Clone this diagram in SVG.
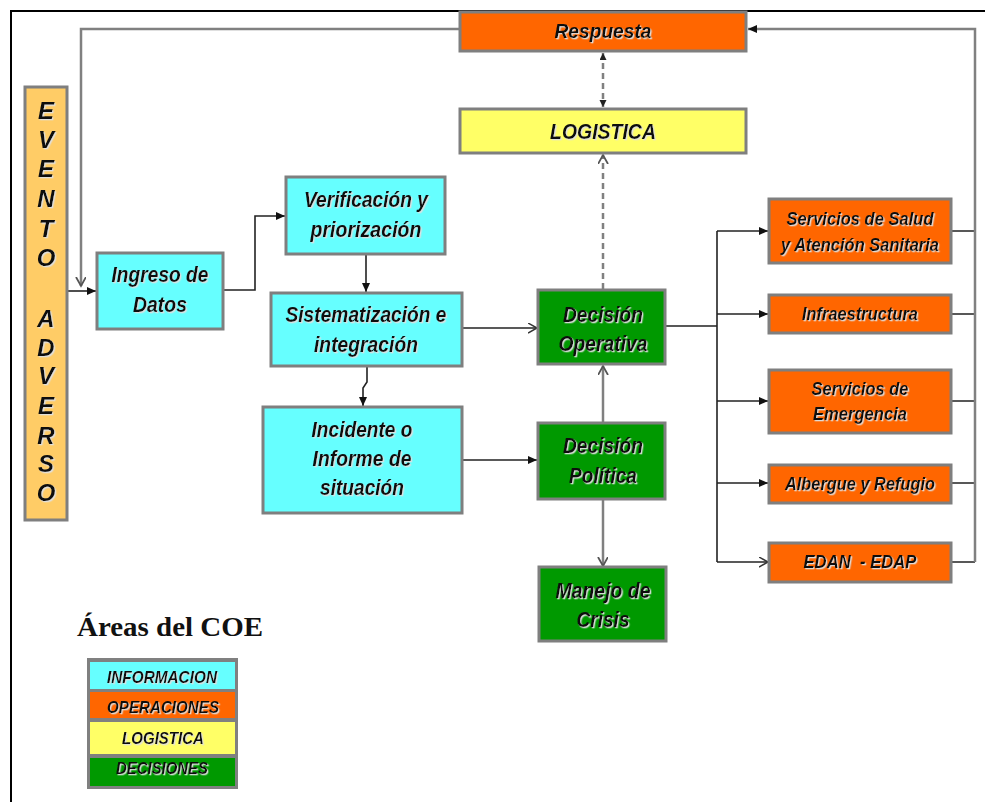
<svg xmlns="http://www.w3.org/2000/svg" width="985" height="802" viewBox="0 0 985 802">
<defs>
<filter id="ts" x="-10%" y="-20%" width="130%" height="150%">
<feDropShadow dx="1.3" dy="1.3" stdDeviation="0.5" flood-color="#e0e0e0" flood-opacity="0.95"/>
</filter>
<marker id="af" markerUnits="userSpaceOnUse" markerWidth="10" markerHeight="10" refX="9" refY="4.5" orient="auto-start-reverse">
<path d="M0,0.5 L9,4.5 L0,8.5 z" fill="#111"/>
</marker>
<marker id="ao" markerUnits="userSpaceOnUse" markerWidth="12" markerHeight="12" refX="9" refY="5" orient="auto">
<path d="M0,0 L9,5 L0,10" fill="none" stroke="#333" stroke-width="1.5"/>
</marker>
<marker id="ag" markerUnits="userSpaceOnUse" markerWidth="12" markerHeight="12" refX="9" refY="5" orient="auto">
<path d="M0,0 L9,5 L0,10" fill="none" stroke="#555" stroke-width="1.8"/>
</marker>
<marker id="ad" markerUnits="userSpaceOnUse" markerWidth="9" markerHeight="9" refX="7" refY="3.5" orient="auto-start-reverse">
<path d="M0,0 L7,3.5 L0,7 z" fill="#222"/>
</marker>
</defs>
<style>
.box{stroke:#7f7f7f;stroke-width:3}
.inf{fill:#66FFFF}.ope{fill:#FF6600}.log{fill:#FFFF66}.dec{fill:#009900}.evt{fill:#FFCC66}
.t{font-family:"Liberation Sans",Arial,sans-serif;font-style:italic;font-weight:bold;fill:#111;text-anchor:middle;filter:url(#ts)}
.m{font-size:22px}
.o{font-size:18.5px}
.ln{fill:none;stroke:#222;stroke-width:1.6}
.lg{fill:none;stroke:#808080;stroke-width:2.5}
.dash{fill:none;stroke:#808080;stroke-width:2.5;stroke-dasharray:6 4}
</style>
<rect width="985" height="802" fill="#fff"/>
<path d="M11,802 V11 H985" fill="none" stroke="#000" stroke-width="2"/>

<g id="connectors">
<path class="lg" d="M460,29 H81 V286" marker-end="url(#ag)"/>
<path class="ln" d="M67,291 H96" marker-end="url(#af)"/>
<path class="ln" d="M223,290 H255 V216 H285" marker-end="url(#af)"/>
<path class="ln" d="M366,254 V292" marker-end="url(#af)"/>
<path class="ln" d="M367,366 V382 L363,388 V406" marker-end="url(#af)"/>
<path class="ln" d="M462,328 L537,328" marker-end="url(#ao)"/>
<path class="ln" d="M462,460 H537" marker-end="url(#af)"/>
<path class="lg" d="M603,423 V366" marker-end="url(#ag)"/>
<path class="lg" d="M603,499 V566" marker-end="url(#ag)"/>
<path class="ln" d="M665,326 H717 M717,231 V562"/>
<path class="ln" d="M717,231 H768" marker-end="url(#af)"/>
<path class="ln" d="M717,314 H768" marker-end="url(#af)"/>
<path class="ln" d="M717,401 H768" marker-end="url(#af)"/>
<path class="ln" d="M717,483 H768" marker-end="url(#af)"/>
<path class="ln" d="M717,562 H768" marker-end="url(#ao)"/>
<path class="ln" d="M951,231 H975 M951,314 H975 M951,401 H975 M951,483 H975 M951,562 H975"/>
<path class="lg" d="M975,562 V29 H748" marker-end="url(#af)"/>
<path class="dash" d="M603,53 V107" marker-start="url(#ad)" marker-end="url(#ad)"/>
<path class="dash" d="M603,289 V155" marker-end="url(#ag)"/>
</g>

<g id="evento">
<rect class="box evt" x="25" y="87" width="42" height="433"/>
<g class="t" font-size="24">
<text x="46" y="119">E</text><text x="46" y="148">V</text><text x="46" y="177">E</text><text x="46" y="207">N</text><text x="46" y="237">T</text><text x="46" y="266">O</text>
<text x="46" y="327">A</text><text x="46" y="356">D</text><text x="46" y="384">V</text><text x="46" y="414">E</text><text x="46" y="444">R</text><text x="46" y="472">S</text><text x="46" y="501">O</text>
</g>
</g>

<g id="respuesta">
<rect class="box ope" x="460" y="12" width="286" height="39"/>
<text class="t" font-size="20" x="603" y="38" textLength="97" lengthAdjust="spacingAndGlyphs">Respuesta</text>
</g>
<g id="logistica">
<rect class="box log" x="460" y="109" width="286" height="44"/>
<text class="t" font-size="21.5" x="603" y="139" textLength="106" lengthAdjust="spacingAndGlyphs">LOGISTICA</text>
</g>
<g id="ingreso">
<rect class="box inf" x="97" y="253" width="126" height="76"/>
<text class="t m" x="160" y="282" textLength="97" lengthAdjust="spacingAndGlyphs">Ingreso de</text>
<text class="t m" x="160" y="312" textLength="54" lengthAdjust="spacingAndGlyphs">Datos</text>
</g>
<g id="verificacion">
<rect class="box inf" x="286" y="177" width="159" height="77"/>
<text class="t m" x="366" y="207" textLength="124" lengthAdjust="spacingAndGlyphs">Verificación y</text>
<text class="t m" x="366" y="237" textLength="111" lengthAdjust="spacingAndGlyphs">priorización</text>
</g>
<g id="sistematizacion">
<rect class="box inf" x="271" y="293" width="191" height="73"/>
<text class="t m" x="366" y="322" textLength="161" lengthAdjust="spacingAndGlyphs">Sistematización e</text>
<text class="t m" x="366" y="352" textLength="104" lengthAdjust="spacingAndGlyphs">integración</text>
</g>
<g id="incidente">
<rect class="box inf" x="263" y="407" width="199" height="106"/>
<text class="t m" x="362" y="437" textLength="101" lengthAdjust="spacingAndGlyphs">Incidente o</text>
<text class="t m" x="362" y="466" textLength="99" lengthAdjust="spacingAndGlyphs">Informe de</text>
<text class="t m" x="362" y="495" textLength="84" lengthAdjust="spacingAndGlyphs">situación</text>
</g>
<g id="decision-operativa">
<rect class="box dec" x="538" y="290" width="127" height="74"/>
<text class="t m" x="603" y="322" textLength="80" lengthAdjust="spacingAndGlyphs">Decisión</text>
<text class="t m" x="603" y="351" textLength="89" lengthAdjust="spacingAndGlyphs">Operativa</text>
</g>
<g id="decision-politica">
<rect class="box dec" x="538" y="423" width="127" height="76"/>
<text class="t m" x="603" y="453" textLength="80" lengthAdjust="spacingAndGlyphs">Decisión</text>
<text class="t m" x="603" y="483" textLength="68" lengthAdjust="spacingAndGlyphs">Política</text>
</g>
<g id="manejo-crisis">
<rect class="box dec" x="539" y="567" width="127" height="74"/>
<text class="t m" x="603" y="598" textLength="95" lengthAdjust="spacingAndGlyphs">Manejo de</text>
<text class="t m" x="603" y="627" textLength="53" lengthAdjust="spacingAndGlyphs">Crisis</text>
</g>
<g id="salud">
<rect class="box ope" x="769" y="199" width="182" height="64"/>
<text class="t o" x="860" y="225" textLength="147" lengthAdjust="spacingAndGlyphs">Servicios de Salud</text>
<text class="t o" x="860" y="251" textLength="158" lengthAdjust="spacingAndGlyphs">y Atención Sanitaria</text>
</g>
<g id="infraestructura">
<rect class="box ope" x="769" y="295" width="182" height="38"/>
<text class="t o" x="860" y="320" textLength="116" lengthAdjust="spacingAndGlyphs">Infraestructura</text>
</g>
<g id="emergencia">
<rect class="box ope" x="769" y="370" width="182" height="63"/>
<text class="t o" x="860" y="395" textLength="97" lengthAdjust="spacingAndGlyphs">Servicios de</text>
<text class="t o" x="860" y="420" textLength="94" lengthAdjust="spacingAndGlyphs">Emergencia</text>
</g>
<g id="albergue">
<rect class="box ope" x="769" y="465" width="182" height="38"/>
<text class="t o" x="860" y="490" textLength="150" lengthAdjust="spacingAndGlyphs">Albergue y Refugio</text>
</g>
<g id="edan">
<rect class="box ope" x="769" y="543" width="182" height="39"/>
<text class="t o" x="860" y="568" xml:space="preserve" textLength="113" lengthAdjust="spacingAndGlyphs">EDAN  - EDAP</text>
</g>

<g id="legend">
<text x="77" y="636" font-family="'Liberation Serif','Times New Roman',serif" font-weight="bold" font-size="28" fill="#111" textLength="186" lengthAdjust="spacingAndGlyphs">Áreas del COE</text>
<rect x="87" y="658" width="151" height="131" fill="#808080"/>
<rect class="inf" x="90" y="662" width="145" height="27"/>
<rect class="ope" x="90" y="692" width="145" height="26"/>
<rect class="log" x="90" y="722" width="145" height="32"/>
<rect class="dec" x="90" y="758" width="145" height="28"/>
<text class="t" font-size="17" x="162" y="683" textLength="110" lengthAdjust="spacingAndGlyphs">INFORMACION</text>
<text class="t" font-size="17" x="163" y="713" textLength="112" lengthAdjust="spacingAndGlyphs">OPERACIONES</text>
<text class="t" font-size="17" x="163" y="744" textLength="82" lengthAdjust="spacingAndGlyphs">LOGISTICA</text>
<text class="t" font-size="17" x="162" y="774" textLength="92" lengthAdjust="spacingAndGlyphs">DECISIONES</text>
</g>
</svg>
